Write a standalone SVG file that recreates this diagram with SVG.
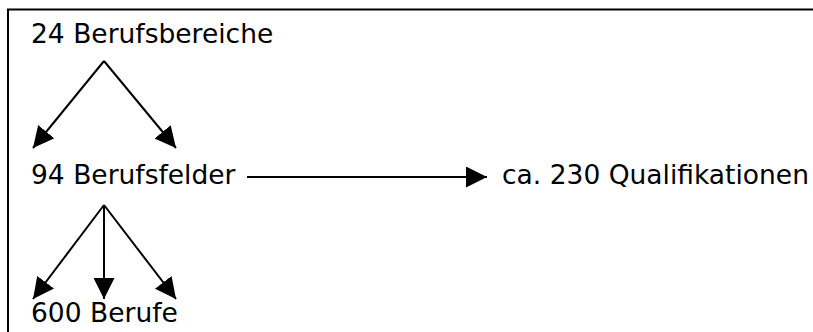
<svg xmlns="http://www.w3.org/2000/svg" width="813" height="332" viewBox="0 0 813 332">
<style>
.t{font-family:"DejaVu Sans",Verdana,sans-serif;font-size:26.5px;fill:#000}
.c{stroke:#000;stroke-width:2;fill:none;marker-end:url(#ah)}
</style>
<defs>
<marker id="ah" markerUnits="userSpaceOnUse" markerWidth="21" markerHeight="21" refX="21" refY="10.5" orient="auto" viewBox="0 0 21 21">
<path d="M0,0 L21,10.5 L0,21 z" fill="#000"/>
</marker>
</defs>
<rect x="0" y="0" width="813" height="332" fill="#fff"/>
<path d="M8,340 V9.5 H820" stroke="#000" stroke-width="2" fill="none"/>
<g id="connectors">
<line class="c" x1="104" y1="61" x2="33" y2="148"/>
<line class="c" x1="104" y1="61" x2="176" y2="148"/>
<line class="c" x1="247" y1="177" x2="487" y2="177"/>
<line class="c" x1="104" y1="205" x2="33" y2="299"/>
<line class="c" x1="104" y1="205" x2="104" y2="299"/>
<line class="c" x1="104" y1="205" x2="176" y2="299"/>
</g>
<g id="n1"><text class="t" x="31" y="43">24 Berufsbereiche</text></g>
<g id="n2"><text class="t" x="31" y="184">94 Berufsfelder</text></g>
<g id="n3"><text class="t" x="502" y="184">ca. 230 Qualifikationen</text></g>
<g id="n4"><text class="t" x="31" y="322">600 Berufe</text></g>
</svg>
